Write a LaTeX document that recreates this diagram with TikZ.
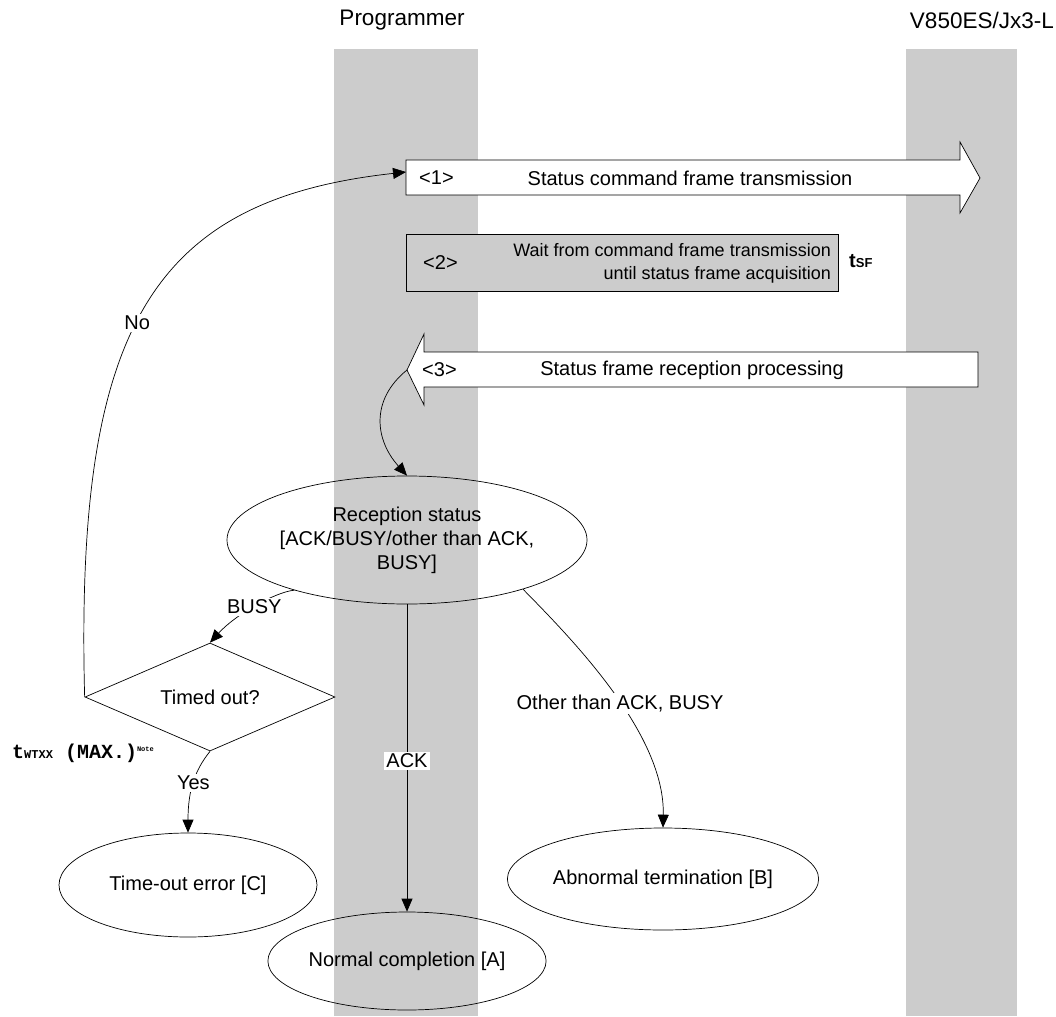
\documentclass[tikz,border=0pt]{standalone}
\usepackage{fontspec}
\setmainfont{Liberation Sans}
\newfontfamily\monob{Liberation Mono}[BoldFont=* Bold]
\usetikzlibrary{arrows.meta,shapes.geometric}
\definecolor{lanegray}{HTML}{CCCCCC}

\begin{document}
\begin{tikzpicture}[x=1pt, y=-1pt,
  every node/.style={font=\fontsize{20}{24}\selectfont},
  head/.style={inner sep=0pt, font=\fontsize{22.5}{24}\selectfont},
  state/.style={draw, ellipse, inner sep=0pt, align=center, line width=0.7pt},
  decision/.style={draw, diamond, inner sep=0pt, aspect=2.31, minimum width=250pt, minimum height=108pt, line width=0.7pt},
  blockarrow/.style={draw, fill=white, line width=0.7pt},
  flow/.style={-{Triangle[length=13pt, width=11pt]}, line width=0.7pt},
  lbl/.style={fill=white, inner sep=2pt}
]
\useasboundingbox (0,0) rectangle (1056,1016);

% lanes
\fill[lanegray] (334,49) rectangle (478,1016);
\fill[lanegray] (906,49) rectangle (1017,1016);
\node[head] (prog) at (402,20) {Programmer};
\node[head, anchor=east] (dev) at (1054,20) {V850ES/Jx3-L};

% <1> command frame
\draw[blockarrow] (406,160) -- (960,160) -- (960,142) -- (980,178) -- (960,213)
  -- (960,195) -- (406,195) -- cycle;
\coordinate (a1tail) at (406,172);
\node[anchor=west, inner sep=0pt] (n1) at (419,178) {<1>};
\node (t1) at (690,178) {Status command frame transmission};

% <2> wait
\draw[fill=lanegray, line width=0.7pt] (406,234) rectangle (838,291);
\node[anchor=west, inner sep=0pt] (n2) at (423,263) {<2>};
\node[anchor=east, align=right, inner sep=0pt, font=\fontsize{18}{23}\selectfont] (t2) at (831,263)
  {Wait from command frame transmission\\until status frame acquisition};
\node[anchor=west, inner sep=0pt] (tsf) at (849,261)
  {\textbf{t}{\fontsize{13}{13}\selectfont\textbf{SF}}};

% <3> status frame
\draw[blockarrow] (978,352) -- (424,352) -- (424,334) -- (407,370) -- (424,405)
  -- (424,387) -- (978,387) -- cycle;
\coordinate (a3tip) at (407,370);
\node[anchor=west, inner sep=0pt] (n3) at (422,370) {<3>};
\node (t3) at (692,370) {Status frame reception processing};

% states
\node[state, minimum width=330pt, minimum height=128pt] (recv) at (407,540)
  {Reception status\\{}[ACK/BUSY/other than ACK,\\ BUSY]};
\node[decision] (tmo) at (210,697) {Timed out?};
\node[state, minimum width=258pt, minimum height=104pt] (terr) at (188,885) {Time-out error [C]};
\node[state, minimum width=260pt, minimum height=98pt] (norm) at (407,961) {Normal completion [A]};
\node[state, minimum width=262pt, minimum height=102pt] (abn) at (663,879) {Abnormal termination [B]};

\node[anchor=west, inner sep=0pt] (twt) at (12,753)
  {\monob\bfseries t{\fontsize{12}{12}\selectfont WTXX} (MAX.)\raisebox{7pt}{\fontsize{7}{7}\selectfont Note}};

% connectors
\draw[flow] (a3tip) .. controls (370,400) and (375,440) .. (recv.north);
\draw[flow] (recv.204) .. controls (275,592) and (235,615) .. node[lbl, pos=0.5] {BUSY} (tmo.north);
\draw[flow] (recv.south) -- node[lbl, pos=0.51] {ACK} (norm.north);
\draw[flow] (recv.-23) .. controls (575,642) and (665,735) .. node[lbl, pos=0.54] {Other than ACK, BUSY} (abn.north);
\draw[flow] (tmo.west) .. controls (75,330) and (150,200) .. node[lbl, pos=0.47] {No} (a1tail);
\draw[flow] (tmo.south) .. controls (195,770) and (188,790) .. node[lbl, pos=0.5] {Yes} (terr.north);
\end{tikzpicture}
\end{document}
